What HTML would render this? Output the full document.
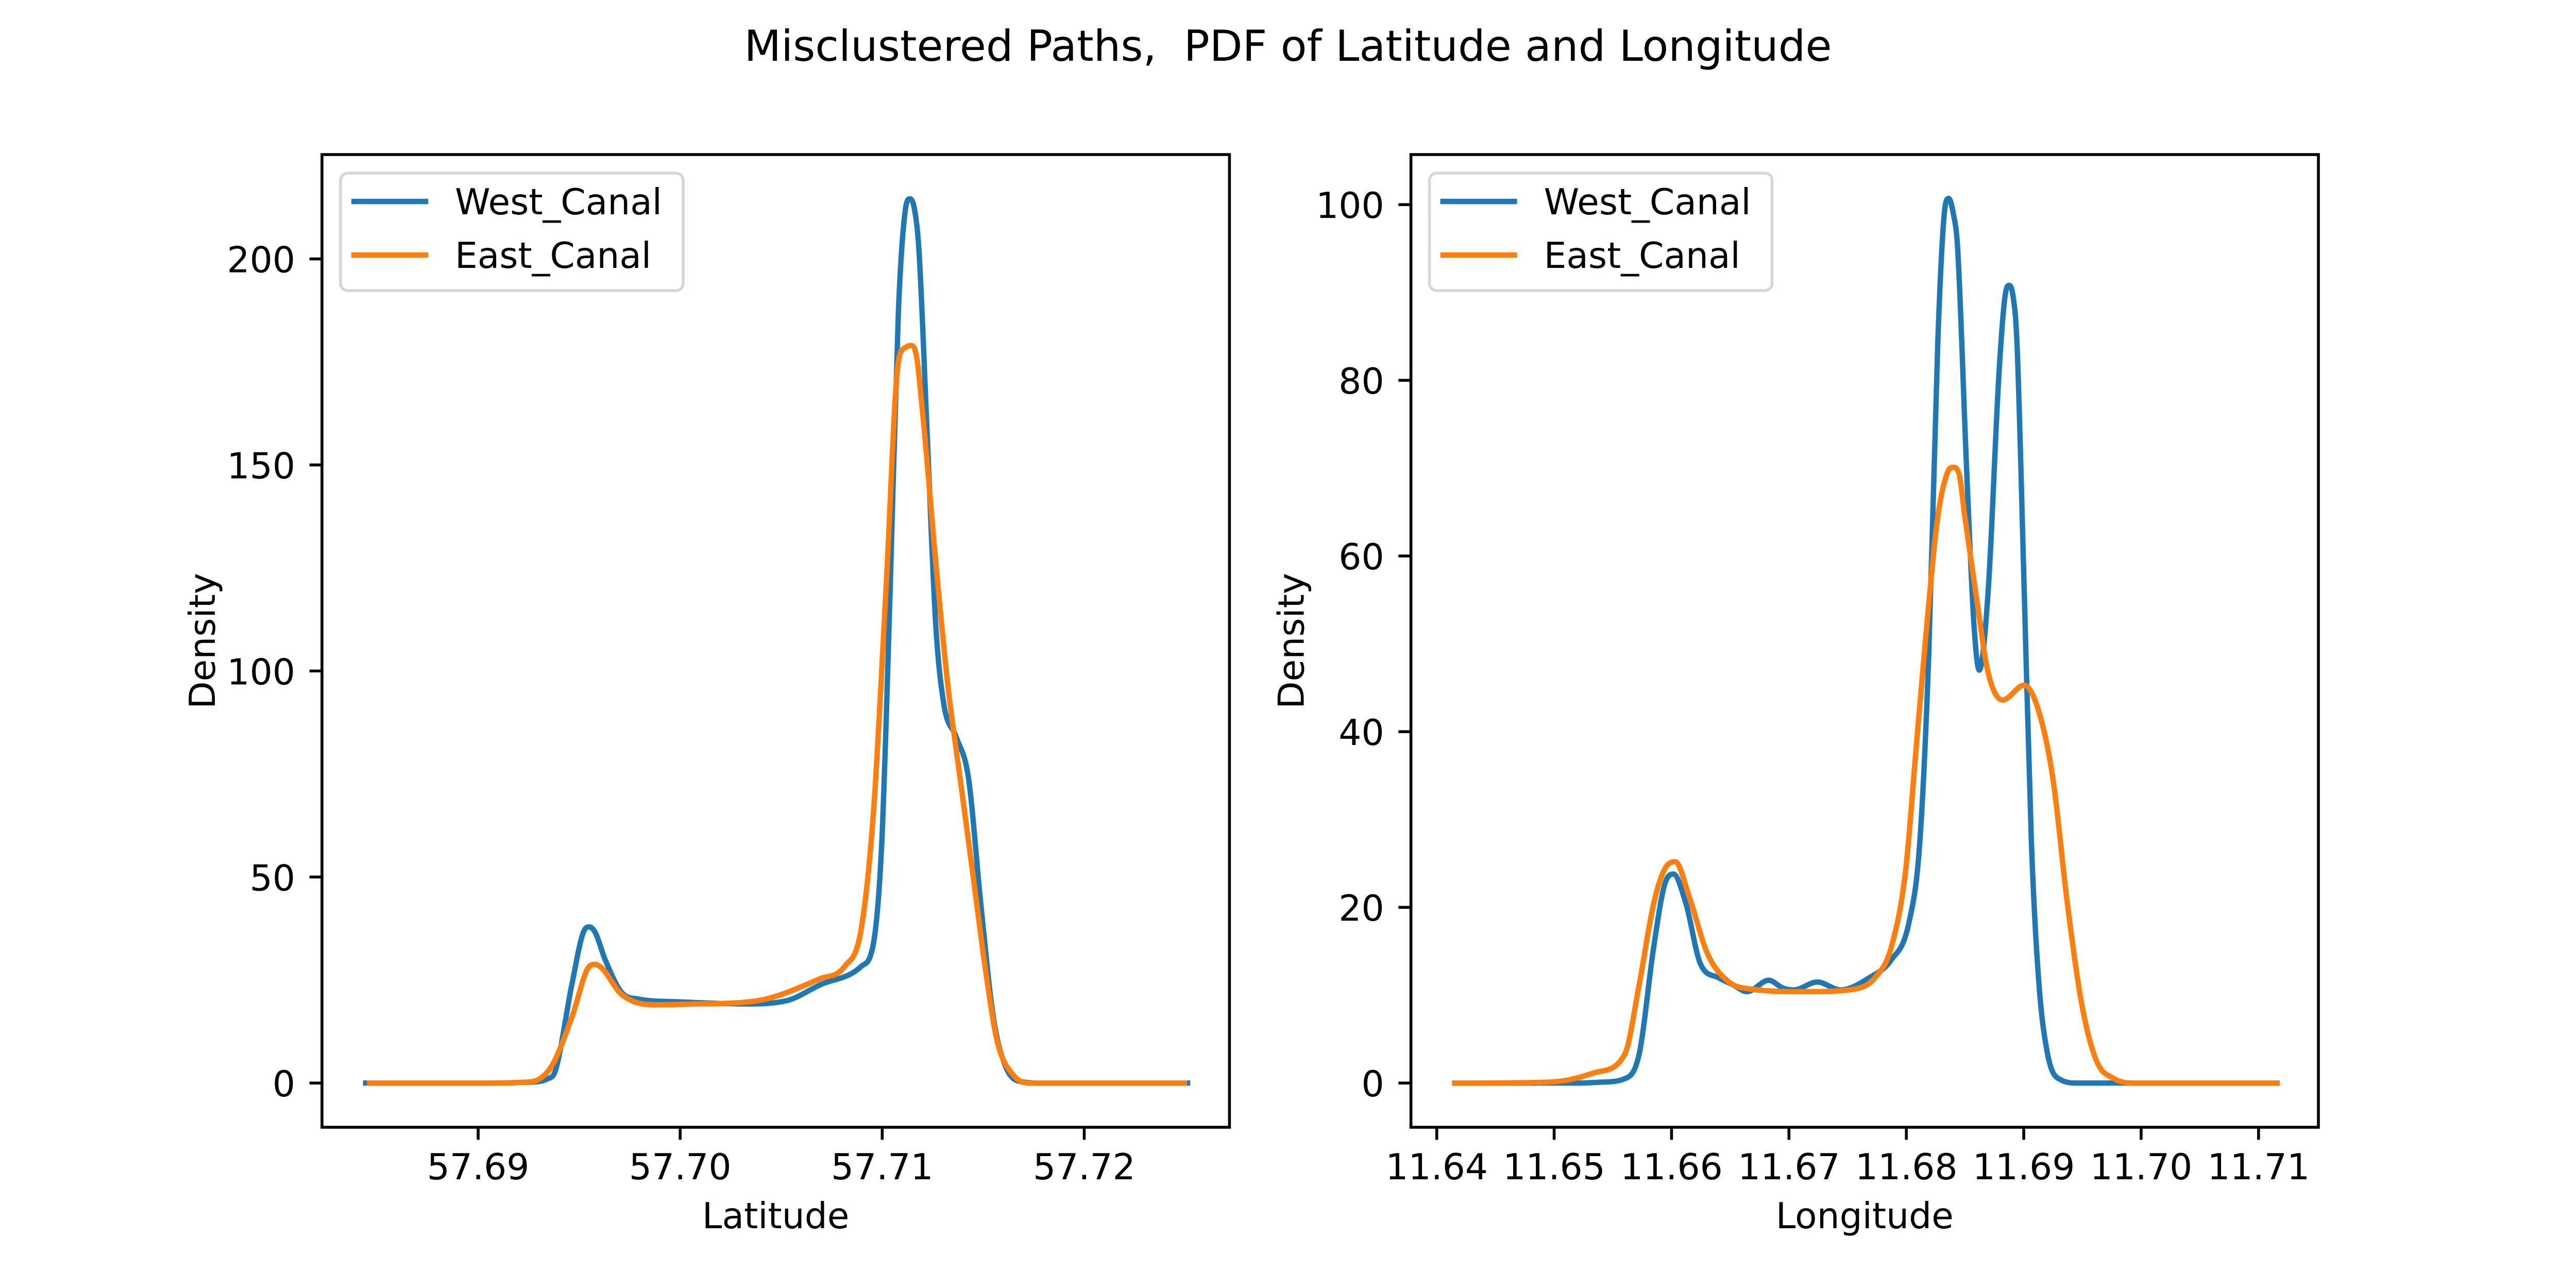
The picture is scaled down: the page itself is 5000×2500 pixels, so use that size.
<!DOCTYPE html>
<html><head><meta charset="utf-8">
<style>
html,body{margin:0;padding:0;background:#fff;}
svg{display:block;font-family:"DejaVu Sans","Liberation Sans",sans-serif;}
</style></head>
<body>
<svg id="fig" width="5000" height="2500" viewBox="0 0 5000 2500" xmlns="http://www.w3.org/2000/svg">
<rect width="5000" height="2500" fill="#fff"/>
<text x="2500" y="118" font-size="83" text-anchor="middle">Misclustered Paths,&#160; PDF of Latitude and Longitude</text>
</svg>
<script>
// ---- Left panel data (Latitude) ----
const latWestX = [57.6843,57.690,57.6925,57.69342,57.69382,57.69464,57.6952,57.6955,57.6958,57.69628,57.6971,57.69791,57.69996,57.70323,57.70528,57.70691,57.70896,57.70957,57.70998,57.71039,57.7108,57.71115,57.71137,57.7116,57.71182,57.71223,57.71264,57.71305,57.71366,57.71427,57.71489,57.7155,57.71611,57.71693,57.718,57.72525];
const latWestY = [0,0,0.2,1,3,24,36.5,37.9,36.5,30,22,20.4,19.7,19.2,20,23.8,28.3,34,58.6,119,187,212,214.6,212,202,157,112,92,84,74,43,16,4,0.3,0,0];
const latEastX = [57.6845,57.690,57.6926,57.69362,57.69464,57.69545,57.69577,57.6961,57.6971,57.69873,57.70078,57.70384,57.70691,57.70814,57.70896,57.70957,57.71018,57.7108,57.71115,57.71141,57.71165,57.71202,57.71264,57.71325,57.71386,57.71448,57.71509,57.7157,57.71652,57.71734,57.7251];
const latEastY = [0,0,0.3,4,16,28,28.8,28,21.5,19,19.2,20,25.3,28.3,37.4,66,119,175,178.5,179,177.5,161.6,127,96.5,73.8,51,28.3,10,1.8,0,0];
const latTicks = [57.69,57.70,57.71,57.72];
const latYTicks = [0,50,100,150,200];
// ---- Right panel data (Longitude) ----
const lonWestX = [11.6413,11.652,11.654,11.65602,11.65724,11.65847,11.65939,11.66015,11.66123,11.66245,11.66398,11.66521,11.66644,11.66828,11.6695,11.67042,11.67241,11.67441,11.67686,11.6787,11.68023,11.68115,11.68191,11.68268,11.6832,11.6836,11.684,11.68437,11.68513,11.68575,11.68621,11.68697,11.68789,11.6884,11.68875,11.6891,11.68942,11.69004,11.69065,11.69126,11.69203,11.6931,11.69463,11.7118];
const lonWestY = [0,0,0.1,0.5,3.3,15.4,22.5,23.8,20.4,13.6,12,11.2,10.4,11.7,10.8,10.6,11.5,10.6,12,14,18.3,27.5,48.8,84.4,98.5,100.7,99,95,70,52.4,47,56,80.8,89.5,90.8,89.5,84.4,56,27.5,11.9,3.3,0.4,0,0];
const lonEastX = [11.6413,11.648,11.651,11.6535,11.65602,11.65724,11.65847,11.65939,11.66031,11.66153,11.66307,11.6649,11.66674,11.67134,11.67563,11.67747,11.6787,11.67992,11.68084,11.68176,11.68268,11.6835,11.684,11.6845,11.68498,11.68605,11.68697,11.6882,11.69004,11.69126,11.69249,11.69372,11.69494,11.69617,11.6977,11.69954,11.7118];
const lonEastY = [0,0.05,0.3,1.2,3.3,11.2,20.4,24.3,25.2,21.1,14.7,11.5,10.7,10.4,10.7,12.2,15.4,24,38.2,52.4,64.5,69.5,70.1,69.3,64.5,54.5,46.7,43.6,45.3,42.4,34.6,20.4,9,2.6,0.5,0,0];
const lonTicks = [11.64,11.65,11.66,11.67,11.68,11.69,11.70,11.71];
const lonYTicks = [0,20,40,60,80,100];

const NS='http://www.w3.org/2000/svg';
const svg=document.getElementById('fig');
function mk(tag,attrs,parent){const e=document.createElementNS(NS,tag);for(const k in attrs)e.setAttribute(k,attrs[k]);(parent||svg).appendChild(e);return e;}

function monoPath(px,py){
  const n=px.length;if(n<2)return '';
  const d=[],m=new Array(n);
  for(let i=0;i<n-1;i++)d.push((py[i+1]-py[i])/(px[i+1]-px[i]));
  m[0]=d[0];m[n-1]=d[n-2];
  for(let i=1;i<n-1;i++){m[i]=(d[i-1]*d[i]<=0)?0:(d[i-1]+d[i])/2;}
  for(let i=0;i<n-1;i++){
    if(d[i]===0){m[i]=0;m[i+1]=0;continue;}
    const a=m[i]/d[i],b=m[i+1]/d[i],s=a*a+b*b;
    if(s>9){const t=3/Math.sqrt(s);m[i]=t*a*d[i];m[i+1]=t*b*d[i];}
  }
  let p='M'+px[0].toFixed(1)+' '+py[0].toFixed(1);
  for(let i=0;i<n-1;i++){
    const h=(px[i+1]-px[i])/3;
    p+='C'+(px[i]+h).toFixed(1)+' '+(py[i]+m[i]*h).toFixed(1)+' '+(px[i+1]-h).toFixed(1)+' '+(py[i+1]-m[i+1]*h).toFixed(1)+' '+px[i+1].toFixed(1)+' '+py[i+1].toFixed(1);
  }
  return p;
}

function panel(p){
  const g=mk('g',{});
  
  
  const L=p.left,R=p.left+p.w,T=300,B=2188;
  const sx=v=>L+(v-p.x0)/(p.x1-p.x0)*(R-L);
  const sy=v=>B-(v-p.y0)/(p.y1-p.y0)*(B-T);
  const clipId='clip'+p.name;
  const cp=mk('clipPath',{id:clipId},g);mk('rect',{x:L,y:T,width:R-L,height:B-T},cp);
  const series=[[p.wx,p.wy,'#1f77b4','west-canal-line'],[p.ex,p.ey,'#ff7f0e','east-canal-line']];
  series.forEach(s=>{
    const d=monoPath(s[0].map(sx),s[1].map(sy));
    const path=mk('path',{d:d,fill:'none',stroke:s[2],'stroke-width':10.4,'stroke-linejoin':'round','clip-path':'url(#'+clipId+')'},g);
    
    
  });
  p.xt.forEach(t=>{
    const x=sx(t);
    mk('line',{x1:x,x2:x,y1:B,y2:B+24.3,stroke:'#000','stroke-width':5.6},g);
    const tx=mk('text',{x:x,y:B+101,'font-size':69.4,'text-anchor':'middle'},g);
    tx.textContent=t.toFixed(2);
    
    
  });
  p.yt.forEach(t=>{
    const y=sy(t);
    mk('line',{x1:L-24.3,x2:L,y1:y,y2:y,stroke:'#000','stroke-width':5.6},g);
    const tx=mk('text',{x:L-52,y:y+26,'font-size':69.4,'text-anchor':'end'},g);
    tx.textContent=String(t);
    
    
  });
  mk('rect',{x:L,y:T,width:R-L,height:B-T,fill:'none',stroke:'#000','stroke-width':5.6},g);
  const xl=mk('text',{x:(L+R)/2,y:2384,'font-size':69.4,'text-anchor':'middle'},g);
  xl.textContent=p.xlabel;
  
  
  const yl=mk('text',{x:0,y:0,'font-size':69.4,'text-anchor':'middle',transform:'translate('+(p.left-208)+',1244) rotate(-90)'},g);
  yl.textContent='Density';
  
  
  const lg=mk('g',{},g);
  
  
  mk('rect',{x:L+36,y:336,width:665,height:228,rx:14,fill:'#fff','fill-opacity':0.8,stroke:'#d6d6d6','stroke-width':5.6},lg);
  [['West_Canal','#1f77b4',391],['East_Canal','#ff7f0e',495]].forEach(e=>{
    const ent=mk('g',{},lg);
    
    
    mk('line',{x1:L+57,x2:L+206,y1:e[2],y2:e[2],stroke:e[1],'stroke-width':10.4},ent);
    const t=mk('text',{x:L+258,y:e[2]+25,'font-size':69.4},ent);
    t.textContent=e[0];
  });
}
panel({name:'latitude-panel',left:625,w:1761.4,x0:57.68227,x1:57.72719,y0:-10.73,y1:225.33,wx:latWestX,wy:latWestY,ex:latEastX,ey:latEastY,xt:latTicks,yt:latYTicks,xlabel:'Latitude'});
panel({name:'longitude-panel',left:2738.6,w:1761.4,x0:11.6378,x1:11.7151,y0:-5.035,y1:105.7,wx:lonWestX,wy:lonWestY,ex:lonEastX,ey:lonEastY,xt:lonTicks,yt:lonYTicks,xlabel:'Longitude'});
</script>
</body></html>
